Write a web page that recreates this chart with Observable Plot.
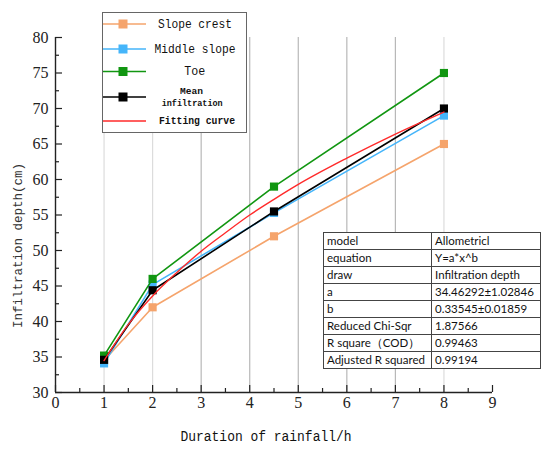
<!DOCTYPE html>
<html><head><meta charset="utf-8">
<script src="https://cdn.jsdelivr.net/npm/d3@7"></script>
<script src="https://cdn.jsdelivr.net/npm/@observablehq/plot@0.6"></script>
<style>
body{margin:0;background:#fff;}
#wrap{position:relative;width:550px;height:453px;overflow:hidden}
#wrap svg{position:absolute;left:0;top:0}
table{position:absolute;left:323px;top:232px;border-collapse:collapse;font-family:Lato,"Liberation Sans",sans-serif;font-size:11.5px;background:#fff;color:#111}
td{border:1px solid #444;height:16px;padding:0 0 0 3px;line-height:16px;white-space:nowrap;box-sizing:border-box}
td.c1{width:108px}
td.c2{width:109px}
</style></head><body><div id="wrap"></div>
<script>
// ---- data ----
const hours = [1, 2, 4.5, 8];
const slopeCrest = [34.5, 42.0, 52.0, 65.0];
const middleSlope = [34.1, 45.2, 55.3, 69.0];
const toe = [35.2, 46.0, 59.0, 75.0];
const meanInfiltration = [34.6, 44.4, 55.5, 70.0];
const fitX = [1, 1.5, 2, 2.5, 3, 3.5, 4, 4.5, 5, 6, 7, 8];
const fitY = [34.5, 39.6, 43.6, 46.9, 49.9, 52.5, 55.0, 57.2, 59.3, 63.0, 66.4, 69.5];
const seriesNames = ["Slope crest", "Middle slope", "Toe", "Mean infiltration"];
const seriesValues = [slopeCrest, middleSlope, toe, meanInfiltration];
const xTicks = [0, 1, 2, 3, 4, 5, 6, 7, 8, 9];
const xMinor = [0.5, 1.5, 2.5, 3.5, 4.5, 5.5, 6.5, 7.5, 8.5];
const yTicks = [30, 35, 40, 45, 50, 55, 60, 65, 70, 75, 80];
const yMinor = [32.5, 37.5, 42.5, 47.5, 52.5, 57.5, 62.5, 67.5, 72.5, 77.5];
const gridLight = [1, 2, 8];
const gridDark = [3, 4, 5, 6, 7];
const tableLeft = ["model", "equation", "draw", "a", "b", "Reduced Chi-Sqr", "R square（COD）", "Adjusted R squared"];
const tableRight = ["Allometricl", "Y=a*x^b", "Infiltration depth", "34.46292±1.02846", "0.33545±0.01859", "1.87566", "0.99463", "0.99194"];

// ---- styles ----
const colors = ["#F5A46C", "#45B5FA", "#119611", "#000000"];
const fitColor = "#FF2A2A";
const serif = "Liberation Serif";

const W = 550, H = 453, mL = 55, mR = 58, mT = 37, mB = 61;
const innerW = W - mL - mR, innerH = H - mT - mB;

const rows = [];
seriesNames.forEach((s, j) => hours.forEach((h, i) => rows.push({series: s, x: h, y: seriesValues[j][i]})));
const fit = fitX.map((x, i) => ({x, y: fitY[i]}));

const marks = [
  Plot.ruleX(gridLight, {stroke: "#dcdcdc", strokeWidth: 1.2}),
  Plot.ruleX(gridDark, {stroke: "#b8b8b8", strokeWidth: 1.2}),
];
seriesNames.forEach((s, j) => {
  const d = rows.filter(r => r.series === s);
  marks.push(Plot.line(d, {x: "x", y: "y", stroke: colors[j], strokeWidth: 1.6}));
  marks.push(Plot.dot(d, {x: "x", y: "y", symbol: "square", r: 4.6, fill: colors[j], stroke: "none"}));
});
marks.push(Plot.line(fit, {x: "x", y: "y", stroke: fitColor, strokeWidth: 1.4, curve: "monotone-x"}));
marks.push(
  Plot.ruleY([30], {stroke: "#222", strokeWidth: 1.4}),
  Plot.ruleX([0], {stroke: "#222", strokeWidth: 1.4}),
  Plot.tickX(xTicks, {stroke: "#222", strokeWidth: 1.2, insetTop: innerH - 7}),
  Plot.tickX(xMinor, {stroke: "#222", strokeWidth: 1.2, insetTop: innerH - 4}),
  Plot.tickY(yTicks, {stroke: "#222", strokeWidth: 1.2, insetRight: innerW - 7}),
  Plot.tickY(yMinor, {stroke: "#222", strokeWidth: 1.2, insetRight: innerW - 4}),
  Plot.text(xTicks, {x: d => d, frameAnchor: "bottom", dy: 15, text: d => String(d), fontFamily: serif, fontSize: 16, fill: "#222"}),
  Plot.text(yTicks, {y: d => d, frameAnchor: "left", dx: -7, textAnchor: "end", text: d => String(d), fontFamily: serif, fontSize: 16, fill: "#222"})
);

const chart = Plot.plot({
  width: W, height: H,
  marginLeft: mL, marginRight: mR, marginTop: mT, marginBottom: mB,
  x: {domain: [0, 9], axis: null},
  y: {domain: [30, 80], axis: null},
  style: {background: "transparent", overflow: "visible"},
  marks
});
const wrap = document.getElementById("wrap");
wrap.appendChild(chart);

// ---- overlay: titles and legend ----
const ov = d3.select(wrap).append("svg").attr("width", W).attr("height", H);
const mono = "'Liberation Mono','DejaVu Sans Mono',monospace";
ov.append("text").attr("transform", "translate(18,245.5) rotate(-90)")
  .attr("text-anchor", "middle").attr("dominant-baseline", "central")
  .attr("font-family", mono).attr("font-size", 13.5).attr("fill", "#333")
  .attr("textLength", 165).attr("lengthAdjust", "spacingAndGlyphs")
  .text("Infiltration depth(cm)");
ov.append("text").attr("x", 266).attr("y", 437)
  .attr("text-anchor", "middle").attr("dominant-baseline", "central")
  .attr("font-family", mono).attr("font-size", 14).attr("fill", "#111")
  .attr("textLength", 171).attr("lengthAdjust", "spacingAndGlyphs")
  .text("Duration of rainfall/h");

const lg = ov.append("g");
lg.append("rect").attr("x", 102.5).attr("y", 12.5).attr("width", 144).attr("height", 120)
  .attr("fill", "#fff").attr("stroke", "#666").attr("stroke-width", 1);
const legendY = [24, 49, 71.5, 97, 121];
const legendItems = seriesNames.map((s, j) => ({color: colors[j], marker: true, y: legendY[j]}))
  .concat([{color: fitColor, marker: false, y: legendY[4]}]);
legendItems.forEach(it => {
  lg.append("line").attr("x1", 103).attr("x2", 146).attr("y1", it.y).attr("y2", it.y)
    .attr("stroke", it.color).attr("stroke-width", 1.6);
  if (it.marker) lg.append("rect").attr("x", 123 - 4.5).attr("y", it.y - 4.5).attr("width", 9).attr("height", 9).attr("fill", it.color);
});
const legendText = [
  {t: seriesNames[0], x: 195, y: 24, w: 74, fs: 13.5, bold: false},
  {t: seriesNames[1], x: 195, y: 49, w: 81, fs: 13.5, bold: false},
  {t: seriesNames[2], x: 194.7, y: 71.5, w: 21, fs: 13.5, bold: false},
  {t: "Mean", x: 191.5, y: 91.7, w: 23, fs: 8.5, bold: true},
  {t: "infiltration", x: 192.2, y: 104, w: 61, fs: 8.5, bold: true},
  {t: "Fitting curve", x: 197, y: 121, w: 76, fs: 10.5, bold: true}
];
legendText.forEach(d => {
  lg.append("text").attr("x", d.x).attr("y", d.y).attr("text-anchor", "middle").attr("dominant-baseline", "central")
    .attr("font-family", mono).attr("font-size", d.fs).attr("font-weight", d.bold ? "bold" : "normal")
    .attr("fill", "#111").attr("textLength", d.w).attr("lengthAdjust", "spacingAndGlyphs").text(d.t);
});

// ---- fit results table ----
const table = d3.select(wrap).append("table");
tableLeft.forEach((l, i) => {
  const tr = table.append("tr");
  tr.append("td").attr("class", "c1").text(l);
  tr.append("td").attr("class", "c2").text(tableRight[i]);
});
</script></body></html>
